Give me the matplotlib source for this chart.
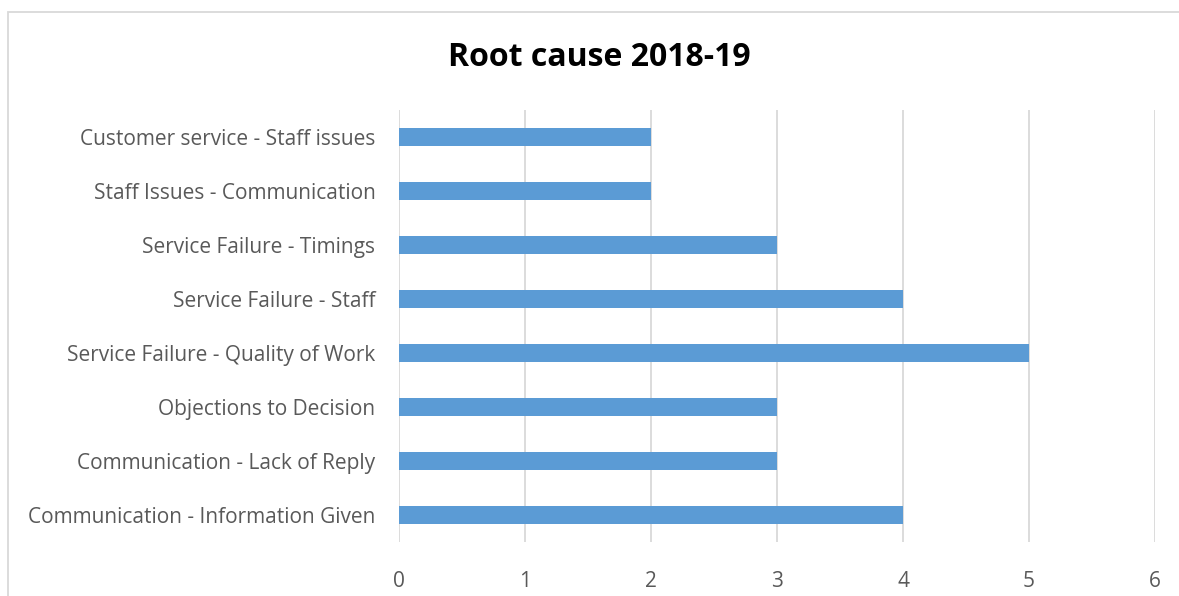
import matplotlib.pyplot as plt
import matplotlib.patches as patches

categories = ['Communication - Information Given', 'Communication - Lack of Reply',
              'Objections to Decision', 'Service Failure - Quality of Work',
              'Service Failure - Staff', 'Service Failure - Timings',
              'Staff Issues - Communication', 'Customer service - Staff issues']
counts = [4, 3, 3, 5, 4, 3, 2, 2]
x_ticks = [0, 1, 2, 3, 4, 5, 6]

plt.rcParams['font.family'] = ['Open Sans', 'DejaVu Sans']

fig = plt.figure(figsize=(11.79, 5.96), dpi=100)
ax = fig.add_axes([399 / 1179, 1 - 542 / 596, 756 / 1179, 432 / 596])

ax.barh(range(len(categories)), counts, height=0.33, color='#5B9BD5', zorder=3)
ax.set_ylim(-0.5, len(categories) - 0.5)
ax.set_xlim(0, 6)
ax.set_xticks(x_ticks)
ax.set_yticks(range(len(categories)))
ax.set_yticklabels(categories)
ax.grid(axis='x', color='#D9D9D9', linewidth=1.3, zorder=0)
for s in ax.spines.values():
    s.set_visible(False)
ax.tick_params(axis='both', length=0, labelsize=15, colors='#595959')
ax.tick_params(axis='y', pad=17)
ax.tick_params(axis='x', pad=21)

fig.text(599 / 1179, 1 - 57 / 596, 'Root cause 2018-19', ha='center', va='center',
         fontsize=23, fontweight='bold', color='#000000')

border = patches.Rectangle((8 / 1179, -0.05), 1.2, 1 - 12 / 596 + 0.05, transform=fig.transFigure,
                           fill=False, edgecolor='#D9D9D9', linewidth=1.3)
fig.patches.append(border)

fig.savefig('out.png', dpi=100)
